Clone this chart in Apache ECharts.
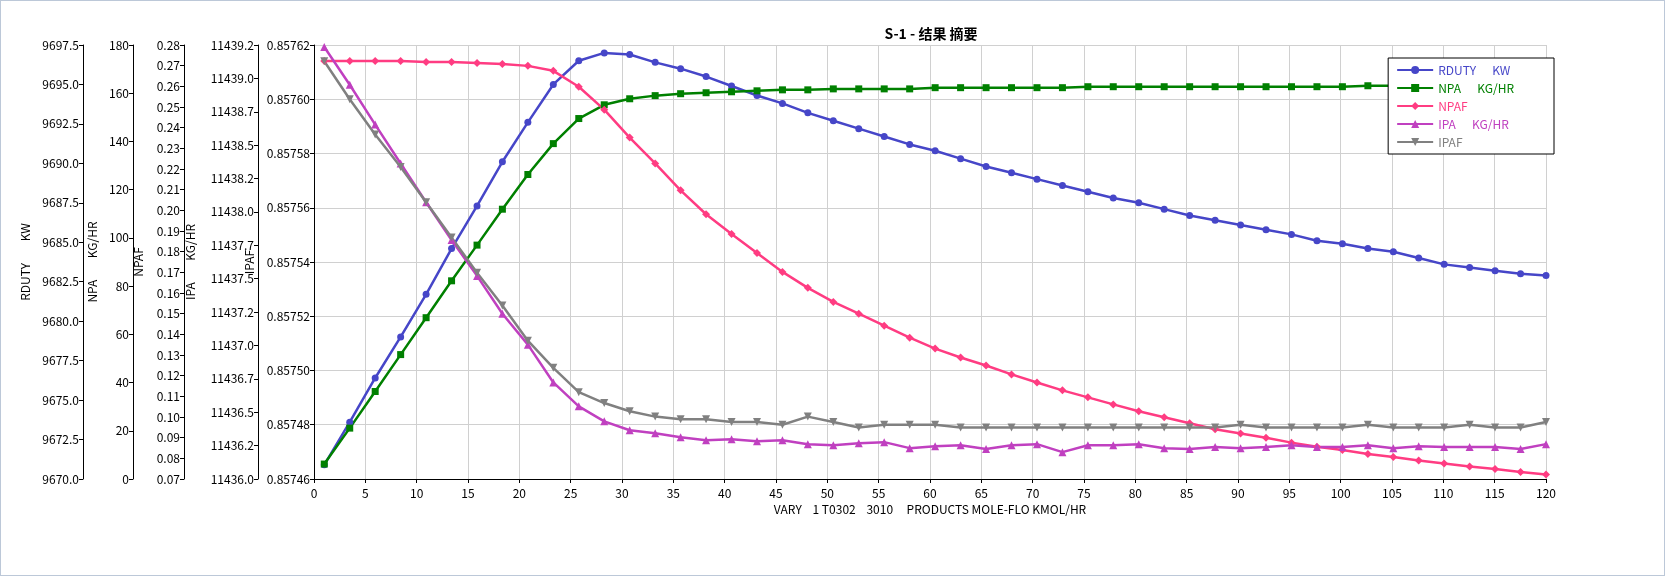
<!DOCTYPE html>
<html><head><meta charset="utf-8">
<script src="https://cdn.jsdelivr.net/npm/echarts@6/dist/echarts.min.js"></script>
<style>html,body{margin:0;padding:0;background:#fff}#c{width:1665px;height:576px;box-sizing:border-box;border:1px solid #bcc8d8}</style>
</head><body><div id="c"></div>
<script>
const xValues = [1,3.48,5.96,8.44,10.92,13.4,15.88,18.35,20.83,23.31,25.79,28.27,30.75,33.23,35.71,38.19,40.67,43.15,45.63,48.1,50.58,53.06,55.54,58.02,60.5,62.98,65.46,67.94,70.42,72.9,75.38,77.85,80.33,82.81,85.29,87.77,90.25,92.73,95.21,97.69,100.17,102.65,105.13,107.6,110.08,112.56,115.04,117.52,120];
const rduty = [9670.9,9673.6,9676.4,9679.0,9681.7,9684.6,9687.3,9690.1,9692.6,9695.0,9696.5,9697.0,9696.9,9696.4,9696.0,9695.5,9694.9,9694.3,9693.8,9693.2,9692.7,9692.2,9691.7,9691.2,9690.8,9690.3,9689.8,9689.4,9689.0,9688.6,9688.2,9687.8,9687.5,9687.1,9686.7,9686.4,9686.1,9685.8,9685.5,9685.1,9684.9,9684.6,9684.4,9684.0,9683.6,9683.4,9683.2,9683.0,9682.9];
const npa = [6.2,21.1,36.3,51.6,66.9,82.2,97.0,111.9,126.3,139.1,149.5,155.2,157.7,159.0,159.8,160.2,160.6,161.0,161.4,161.4,161.8,161.8,161.8,161.8,162.3,162.3,162.3,162.3,162.3,162.3,162.7,162.7,162.7,162.7,162.7,162.7,162.7,162.7,162.7,162.7,162.7,163.1,163.1,163.1,163.1,163.1,163.1,163.1,163.1];
const npaf = [0.2723,0.2723,0.2723,0.2723,0.2718,0.2718,0.2713,0.2708,0.2699,0.2675,0.2598,0.2487,0.2352,0.2227,0.2097,0.1981,0.1885,0.1793,0.1702,0.1625,0.1557,0.1500,0.1442,0.1384,0.1331,0.1288,0.1249,0.1206,0.1167,0.1129,0.1095,0.1061,0.1028,0.0999,0.0970,0.0941,0.0920,0.0900,0.0876,0.0856,0.0840,0.0821,0.0806,0.0790,0.0775,0.0760,0.0748,0.0734,0.0722];
const ipa = [11439.235,11438.952,11438.654,11438.363,11438.072,11437.789,11437.521,11437.237,11437.006,11436.723,11436.544,11436.432,11436.365,11436.343,11436.313,11436.291,11436.298,11436.283,11436.291,11436.261,11436.253,11436.268,11436.276,11436.231,11436.246,11436.253,11436.224,11436.253,11436.261,11436.201,11436.253,11436.253,11436.261,11436.231,11436.224,11436.239,11436.231,11436.239,11436.253,11436.239,11436.239,11436.253,11436.231,11436.246,11436.239,11436.239,11436.239,11436.224,11436.261];
const ipaf = [0.857614,0.857600,0.857587,0.857575,0.857562,0.857549,0.857536,0.857524,0.857511,0.857501,0.857492,0.857488,0.857485,0.857483,0.857482,0.857482,0.857481,0.857481,0.857480,0.857483,0.857481,0.857479,0.857480,0.857480,0.857480,0.857479,0.857479,0.857479,0.857479,0.857479,0.857479,0.857479,0.857479,0.857479,0.857479,0.857479,0.857480,0.857479,0.857479,0.857479,0.857479,0.857480,0.857479,0.857479,0.857479,0.857480,0.857479,0.857479,0.857481];
const names = ['RDUTY','NPA','NPAF','IPA','IPAF'];
const units = ['KW','KG/HR','','KG/HR',''];
const colors = ['#4646c8','#008000','#ff3c82','#c040c0','#808080'];
const symbols = ['circle','rect','diamond','triangle','triangle'];
const rot = [0,0,0,0,180];
const ser = [rduty,npa,npaf,ipa,ipaf];

const chart = echarts.init(document.getElementById('c'));
const font = 'Microsoft YaHei, Noto Sans CJK SC, DejaVu Sans, sans-serif';
function yax(i, min, max, interval, offset, gap, fmt) {
  return {type:'value', position:'left', offset, min, max, interval,
    name: names[i] + (units[i] ? '        ' + units[i] : ''), nameLocation:'middle', nameGap:gap, nameRotate:90,
    nameTextStyle:{color:'#000',fontSize:12,fontFamily:font},
    axisLine:{show:true,onZero:false,lineStyle:{color:'#000'}}, axisTick:{show:true,length:4,lineStyle:{color:'#000'}},
    axisLabel:{color:'#000',fontSize:12,fontFamily:font,formatter:fmt,margin:4},
    splitLine:{show:i===4,lineStyle:{color:'#d0d0d0'}}};
}
chart.setOption({
  animation:false,
  title:{text:'S-1 - 结果 摘要',left:925,top:21,textAlign:'center',textStyle:{fontSize:14,fontWeight:'bold',color:'#000',fontFamily:font}},
  grid:{left:313,right:118,top:44,bottom:96},
  legend:{orient:'vertical',right:110,top:57,backgroundColor:'#fff',borderColor:'#000',borderWidth:1,padding:[6,40,6,8],itemGap:6,itemWidth:36,itemHeight:10,
    data:names.map((n,i)=>({name:n,textStyle:{color:colors[i]}})),
    formatter:n=>{const i=names.indexOf(n);return n+(units[i]?'      '+units[i]:'');},
    textStyle:{fontSize:12,fontFamily:font}},
  xAxis:{type:'value',min:0,max:120,interval:5,
    name:'VARY    1 T0302    3010     PRODUCTS MOLE-FLO KMOL/HR',nameLocation:'middle',nameGap:24,
    nameTextStyle:{color:'#000',fontSize:12,fontFamily:font},
    axisLine:{lineStyle:{color:'#000'}},axisTick:{length:4,lineStyle:{color:'#000'}},
    axisLabel:{color:'#000',fontSize:12,fontFamily:font},
    splitLine:{show:true,lineStyle:{color:'#d0d0d0'}}},
  yAxis:[
    yax(0,9670,9697.5,2.5,231,52,v=>v.toFixed(1)),
    yax(1,0,180,20,181,32,v=>String(v)),
    yax(2,0.07,0.28,0.01,130,40,v=>v.toFixed(2)),
    yax(3,11436,11439.25,0.25,56,62,v=>(Math.floor(v*10+1e-6)/10).toFixed(1)),
    yax(4,0.85746,0.85762,0.00002,0,58,v=>v.toFixed(5))
  ],
  series:ser.map((d,i)=>({name:names[i],type:'line',yAxisIndex:i,data:xValues.map((x,j)=>[x,d[j]]),
    symbol:symbols[i],symbolRotate:rot[i],symbolSize:i===0?7:(i===1?7:8),showAllSymbol:true,
    lineStyle:{color:colors[i],width:2.5},itemStyle:{color:colors[i]}}))
});
</script></body></html>
